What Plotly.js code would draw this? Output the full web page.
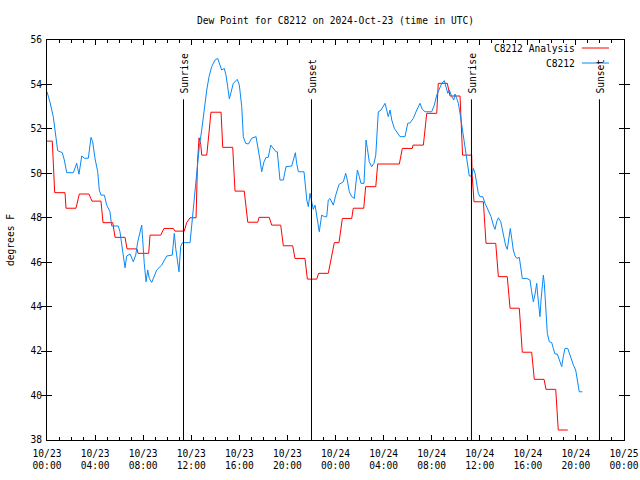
<!DOCTYPE html>
<html>
<head>
<meta charset="utf-8">
<script src="https://cdn.plot.ly/plotly-3.0.1.min.js"></script>
<style>html,body{margin:0;padding:0;background:#fff;}#chart{width:640px;height:480px;}</style>
</head>
<body>
<div id="chart"></div>
<script>
// Hours since 2024-10-23 00:00 UTC
const analysisHours = [0.00,0.44,0.64,1.50,1.58,2.41,2.69,3.49,3.74,4.49,4.66,5.47,5.66,6.49,6.66,7.49,7.57,8.46,8.57,9.46,9.73,10.51,10.65,11.42,11.62,11.90,12.40,12.52,12.65,12.79,12.87,13.29,13.50,13.64,14.48,14.62,15.45,15.64,16.41,16.70,17.53,17.64,18.49,18.69,19.44,19.66,20.44,20.63,21.46,21.66,22.44,22.59,23.40,23.90,24.29,24.57,25.35,25.48,26.35,26.51,27.35,27.51,29.31,29.56,30.39,30.45,31.31,31.59,32.42,32.55,33.30,33.53,34.36,34.50,34.57,35.33,35.36,35.52,36.30,36.52,37.33,37.55,38.29,38.52,39.29,39.54,40.32,40.54,41.35,41.51,42.32,42.53,43.32];
const analysisDewPoint = [51.45,51.45,49.13,49.13,48.43,48.43,49.07,49.07,48.75,48.75,47.78,47.78,47.12,47.12,46.6,46.6,46.4,46.4,47.22,47.22,47.52,47.52,47.4,47.4,47.78,48.0,48.0,50.5,51.6,51.3,50.82,50.82,51.95,52.75,52.75,51.17,51.17,49.2,49.2,47.8,47.8,48.02,48.02,47.67,47.67,46.74,46.74,46.17,46.17,45.24,45.24,45.5,45.5,46.88,46.88,47.97,47.97,48.43,48.43,49.4,49.4,50.42,50.42,51.12,51.12,51.27,51.27,52.7,52.7,54.05,54.05,53.48,53.48,52.03,50.82,50.82,50.0,48.72,48.72,46.85,46.85,45.35,45.35,43.93,43.93,41.95,41.95,40.73,40.73,40.28,40.28,38.45,38.45];

const stationHours = [0.00,0.25,0.52,0.72,0.89,1.27,1.44,1.64,2.19,2.47,2.66,2.89,3.10,3.44,3.66,3.80,3.99,4.22,4.35,4.49,4.77,4.97,5.24,5.38,5.93,6.07,6.26,6.41,6.49,6.63,6.91,7.18,7.38,7.55,7.74,7.88,8.09,8.24,8.38,8.51,8.71,9.13,9.54,9.96,10.42,10.59,10.71,10.87,10.98,11.12,11.26,11.90,12.09,12.25,12.40,12.54,12.67,12.87,13.00,13.14,13.29,13.48,13.70,13.98,14.20,14.39,14.53,14.75,14.89,15.03,15.17,15.50,15.83,16.00,16.20,16.33,16.53,16.75,17.03,17.39,17.58,17.72,17.86,18.05,18.22,18.41,18.61,18.83,19.05,19.16,19.28,19.38,19.66,19.88,20.36,20.55,20.66,20.77,20.91,21.38,21.52,21.61,21.74,21.88,22.02,22.15,22.30,22.44,22.57,22.65,22.85,23.07,23.27,23.40,23.54,23.82,24.02,24.29,24.65,24.85,24.98,25.15,25.35,25.57,25.68,25.82,25.98,26.12,26.37,26.46,26.54,26.65,26.81,27.01,27.20,27.35,27.43,27.56,27.79,27.98,28.12,28.26,28.39,28.54,28.68,28.89,29.09,29.37,29.78,30.01,30.20,30.47,30.76,31.03,31.22,31.45,32.00,32.22,32.42,32.70,32.84,33.05,33.19,33.34,33.47,33.67,33.84,33.94,34.08,34.22,34.36,34.50,34.63,34.78,34.92,35.05,35.13,35.33,35.47,35.61,35.75,35.88,36.02,36.25,36.44,36.71,36.94,37.13,37.27,37.41,37.55,37.75,37.88,38.02,38.16,38.29,38.44,38.54,38.66,38.79,38.94,39.08,39.29,39.43,39.54,39.91,40.18,40.32,40.46,40.60,40.74,40.82,40.93,41.01,41.10,41.21,41.29,41.37,41.49,41.62,41.79,41.99,42.12,42.26,42.45,42.68,42.82,42.95,43.09,43.32,43.45,43.59,43.79,43.98,44.15,44.28,44.53];
const stationDewPoint = [53.67,53.2,52.55,51.8,51.02,50.93,50.6,50.03,50.03,50.45,49.96,50.78,50.68,50.68,51.62,51.42,50.68,50.07,49.25,49.02,49.02,48.57,48.27,47.63,47.63,47.37,46.7,45.95,45.75,46.28,46.37,46.02,46.32,46.92,47.45,47.67,45.95,45.12,45.65,45.27,45.09,45.65,45.87,46.28,46.32,47.3,46.62,45.95,45.57,46.7,46.88,46.88,47.97,48.8,49.85,50.45,51.2,51.95,52.55,53.15,53.75,54.35,54.8,55.1,55.17,54.87,54.65,54.72,54.42,53.9,53.35,54.05,54.23,53.97,53.0,51.65,51.35,51.32,51.58,51.65,51.12,50.6,50.07,50.52,50.72,50.72,51.27,51.12,50.97,50.97,50.3,49.7,49.7,50.3,50.33,50.75,50.93,50.45,50.07,50.07,49.4,48.8,48.5,49.1,48.72,48.38,48.57,48.12,47.67,47.37,48.12,48.05,48.05,48.8,48.87,48.57,49.02,49.5,49.62,50.0,49.7,49.17,48.95,48.87,49.47,50.15,49.85,49.55,49.55,50.52,51.5,51.12,50.52,50.3,50.45,50.82,51.65,52.77,52.85,53.0,53.15,52.85,52.55,52.85,52.4,52.03,51.88,51.65,51.65,52.25,52.27,52.47,52.85,53.15,52.88,52.77,52.77,53.07,53.52,53.9,54.05,54.17,53.9,53.6,53.75,53.45,53.3,53.57,53.38,53.15,52.7,52.17,51.58,51.05,50.6,50.07,49.88,49.88,50.22,50.0,49.47,49.1,48.95,48.95,48.65,48.35,48.05,47.67,47.48,47.82,48.0,47.82,47.52,47.07,46.73,46.58,47.12,47.52,47.07,46.55,46.28,46.17,46.22,45.72,45.27,45.27,45.2,44.67,44.22,44.57,45.05,44.52,44.0,43.55,44.3,45.05,45.42,45.05,43.7,42.8,42.42,42.38,42.12,41.87,41.87,41.45,41.3,41.75,42.12,42.12,41.9,41.6,41.37,41.15,40.62,40.17,40.17];

const tickHours = [0,4,8,12,16,20,24,28,32,36,40,44,48];
const tickDates = ["10/23","10/23","10/23","10/23","10/23","10/23","10/24","10/24","10/24","10/24","10/24","10/24","10/25"];
const tickTimes = ["00:00","04:00","08:00","12:00","16:00","20:00","00:00","04:00","08:00","12:00","16:00","20:00","00:00"];

const sunEventHours = [11.355, 22.003, 35.31, 45.96];
const sunEventNames = ["Sunrise","Sunset","Sunrise","Sunset"];

const seriesNames = ["C8212 Analysis","C8212"];
const seriesColors = ["#ff0000","#0a88f5"];

const FONT = {family: "DejaVu Sans Mono, Liberation Mono, monospace", size: 9.6, color: "#000"};

const traces = [
  {x: analysisHours, y: analysisDewPoint, type: "scatter", mode: "lines", name: seriesNames[0],
   line: {color: seriesColors[0], width: 1}, showlegend: false},
  {x: stationHours, y: stationDewPoint, type: "scatter", mode: "lines", name: seriesNames[1],
   line: {color: seriesColors[1], width: 1}, showlegend: false},
  // invisible carrier so the second-row tick axis is built
  {x: analysisHours, y: analysisDewPoint, xaxis: "x2", type: "scatter", mode: "lines",
   line: {width: 0}, opacity: 0, hoverinfo: "skip", showlegend: false}
];

const shapes = sunEventHours.map(h => ({
  type: "line", xref: "x", yref: "y", x0: h, x1: h, y0: 38, y1: 53.33,
  line: {color: "#000", width: 1}
}));
const annotations = sunEventHours.map((h, i) => ({
  x: h, y: 53.5, xref: "x", yref: "y", text: sunEventNames[i], showarrow: false,
  textangle: -90, xanchor: "center", yanchor: "bottom", font: FONT, xshift: 1
}));

// Legend in gnuplot style (text, then line sample on the right)
const legendRows = [0.98, 0.9425];
seriesNames.forEach((name, i) => {
  annotations.push({x: 0.918, y: legendRows[i], xref: "paper", yref: "paper", text: name,
    showarrow: false, xanchor: "right", yanchor: "middle", font: FONT});
  shapes.push({type: "line", xref: "paper", yref: "paper", x0: 0.927, x1: 0.974,
    y0: legendRows[i], y1: legendRows[i], line: {color: seriesColors[i], width: 1}});
});

const axisCommon = {
  showline: true, linecolor: "#000", linewidth: 1, mirror: "allticks",
  ticks: "inside", ticklen: 5, tickcolor: "#000", tickwidth: 1,
  showgrid: false, zeroline: false, tickfont: FONT
};

const layout = {
  width: 640, height: 480,
  margin: {l: 47, r: 16, t: 40, b: 40},
  paper_bgcolor: "#fff", plot_bgcolor: "#fff",
  font: FONT,
  title: {text: "Dew Point for C8212 on 2024-Oct-23 (time in UTC)", font: FONT,
          x: 0.5, xref: "paper", y: 0.958, yanchor: "middle"},
  xaxis: Object.assign({}, axisCommon, {
    range: [0, 48], tickmode: "array", tickvals: tickHours, ticktext: tickDates,
    ticklabelstandoff: 4,
    minor: {dtick: 1, ticks: "inside", ticklen: 3, tickcolor: "#000", showgrid: false}
  }),
  xaxis2: {
    overlaying: "x", anchor: "y", side: "bottom", range: [0, 48],
    tickmode: "array", tickvals: tickHours, ticktext: tickTimes,
    ticks: "", showline: false, showgrid: false, zeroline: false,
    tickfont: FONT, ticklabelstandoff: 18
  },
  yaxis: Object.assign({}, axisCommon, {
    range: [38, 56], dtick: 2, tick0: 38, ticklabelstandoff: 2,
    title: {text: "degrees F", font: FONT, standoff: 14}
  }),
  shapes: shapes,
  annotations: annotations,
  showlegend: false
};

Plotly.newPlot("chart", traces, layout, {displayModeBar: false, staticPlot: true});
</script>
</body>
</html>
